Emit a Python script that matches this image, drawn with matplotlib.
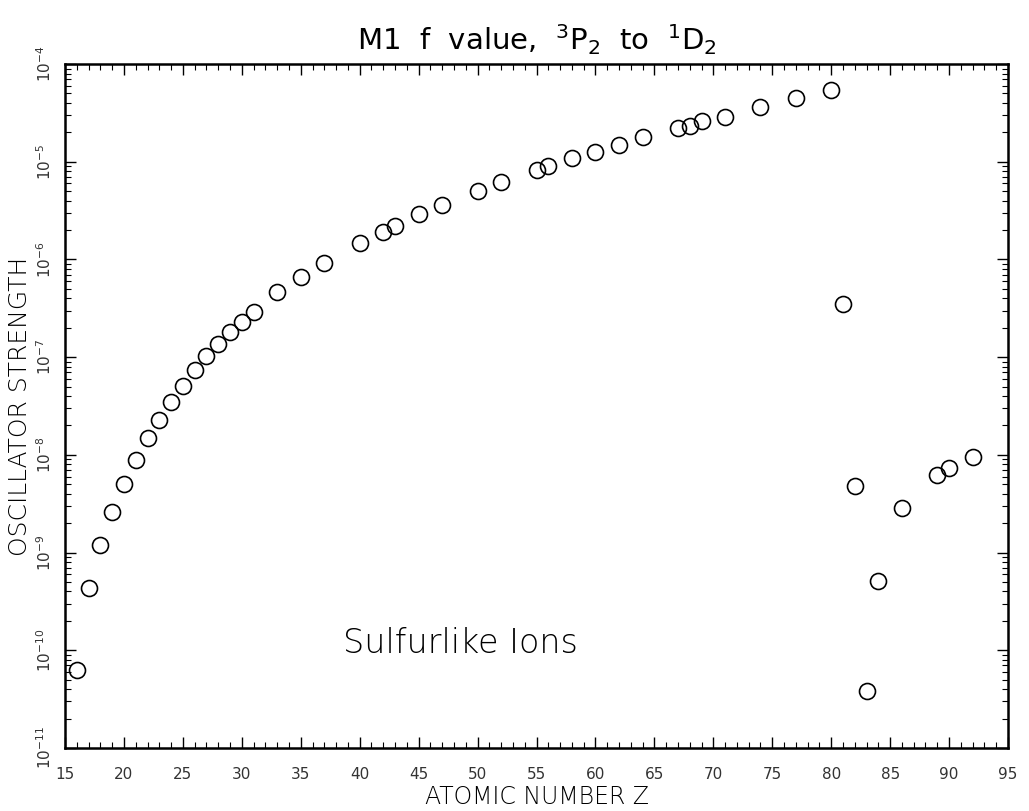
import matplotlib
matplotlib.use("Agg")
import matplotlib.pyplot as plt
import numpy as np
from matplotlib.ticker import MultipleLocator, LogLocator, FixedLocator

# atomic number Z and M1 oscillator strength
Z = [16, 17, 18, 19, 20, 21, 22, 23, 24, 25, 26, 27, 28, 29, 30, 31,
     33, 35, 37, 40, 42, 43, 45, 47, 50, 52, 55, 56, 58, 60, 62, 64,
     67, 68, 69, 71, 74, 77, 80,
     81, 82, 83, 84, 86, 89, 90, 92]
f = [6.3e-11, 4.3e-10, 1.2e-9, 2.6e-9, 5.0e-9, 8.9e-9, 1.5e-8, 2.3e-8,
     3.5e-8, 5.1e-8, 7.4e-8, 1.03e-7, 1.35e-7, 1.8e-7, 2.3e-7, 2.9e-7,
     4.6e-7, 6.6e-7, 9.1e-7, 1.47e-6, 1.9e-6, 2.2e-6, 2.9e-6, 3.6e-6,
     5.0e-6, 6.2e-6, 8.2e-6, 9.1e-6, 1.1e-5, 1.26e-5, 1.5e-5, 1.8e-5,
     2.2e-5, 2.3e-5, 2.6e-5, 2.9e-5, 3.6e-5, 4.5e-5, 5.4e-5,
     3.5e-7, 4.8e-9, 3.8e-11, 5.1e-10, 2.85e-9, 6.2e-9, 7.3e-9, 9.5e-9]

xticks = list(range(15, 96, 5))
ydecades = list(range(-11, -3))

fig = plt.figure(figsize=(10.29, 8.11), dpi=100)
ax = fig.add_axes([0.0632, 0.0777, 0.9164, 0.8433])

ax.plot(Z, f, 'o', mfc='none', mec='black', mew=1.2, ms=11.5, ls='none')

ax.set_yscale('log')
ax.set_xlim(15, 95)
ax.set_ylim(1e-11, 1e-4)

ax.xaxis.set_major_locator(FixedLocator(xticks))
ax.xaxis.set_minor_locator(MultipleLocator(1))
ax.set_xticklabels([str(t) for t in xticks])
ax.yaxis.set_major_locator(FixedLocator([10.0**d for d in ydecades]))
ax.yaxis.set_minor_locator(LogLocator(base=10, subs=np.arange(2, 10), numticks=20))
ax.set_yticklabels([r'$10^{%d}$' % d for d in ydecades], rotation=90, va='center')

ax.tick_params(which='both', direction='in', top=True, right=True, labelsize=11,
               colors='black', labelcolor='#333333')
ax.tick_params(which='major', length=8, width=1.0)
ax.tick_params(axis='x', which='major', pad=14)
ax.tick_params(axis='y', which='major', pad=8)
ax.tick_params(which='minor', length=4, width=0.8)
for s in ax.spines.values():
    s.set_linewidth(1.8)

ax.set_xlabel('ATOMIC NUMBER Z', fontsize=17, fontweight='light', labelpad=2)
ax.set_ylabel('OSCILLATOR STRENGTH', fontsize=18, fontweight='light', labelpad=2)
ax.set_title(r'M1  f  value,  $^3$P$_2$  to  $^1$D$_2$', fontsize=21, pad=10)

ax.text(0.419, 0.153, 'Sulfurlike Ions', transform=ax.transAxes, ha='center', va='center',
        fontsize=24, fontweight='light')

fig.savefig('out.png', dpi=100)
